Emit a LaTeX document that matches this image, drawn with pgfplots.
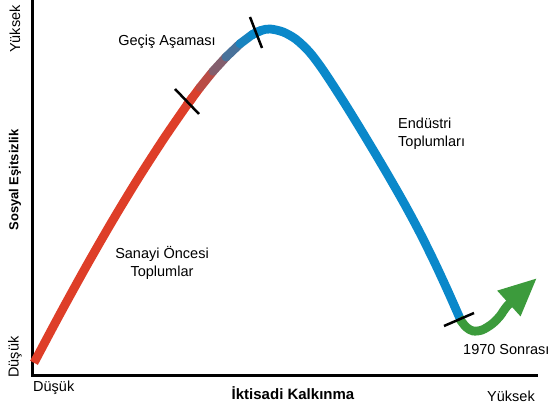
\documentclass[border=0pt]{standalone}
\usepackage{pgfplots}
\pgfplotsset{compat=1.18}
\usepackage{fontspec}
\setmainfont{Liberation Sans}
\usetikzlibrary{arrows.meta}
\definecolor{cred}{RGB}{222,62,40}
\definecolor{cblue}{RGB}{10,136,202}
\definecolor{cgreen}{RGB}{60,155,60}
\begin{document}
\begin{tikzpicture}
\begin{axis}[
  hide axis, scale only axis,
  width=557bp, height=407bp,
  xmin=0, xmax=557, ymin=0, ymax=407,
  clip=false,
  colormap={rb}{rgb255(0cm)=(222,62,40); rgb255(1cm)=(10,136,202)},
]
% axes
\addplot[black, line width=3bp, line join=miter] coordinates {(32,407) (32,32) (538,32)};
% pre-industrial (red)
\addplot[cred, line width=8.8bp, smooth] coordinates {
(34,44.2) (60,93) (86,140.2) (112,185.4) (138,228.3) (164,268.6) (187,302) (193,310)};
% transition (gradient)
\addplot[mesh, point meta=explicit, colormap name=rb, line width=8.8bp, line cap=round] coordinates {
(187,302) [0] (200,319.55) [0.05] (213,335.7) [0.3] (226,349.9) [0.55] (240,363.2) [0.85] (252,372.2) [1] (261,376.5) [1]};
% industrial (blue)
\addplot[cblue, line width=8.8bp, smooth] coordinates {
(252,372.2) (261,376.5) (270,378) (283,375.05) (296,367.7) (309,355.45) (320,341.25) (332,323.4) (345,303.1) (360,278.8) (375,253.9) (390,228.4) (405,202.1) (420,174.1) (435,143.7) (448,115.6) (460,88.5)};
% post-1970 (green arrow)
\addplot[cgreen, line width=8.8bp, smooth, -{Triangle[length=38bp,width=32bp]}] coordinates {
(459,89) (466,80) (473,76) (482,77) (492,83) (500,91) (509,103) (537,129)};
% phase ticks
\addplot[black, line width=2.5bp] coordinates {(175,318) (199,293)};
\addplot[black, line width=2.5bp] coordinates {(250,390) (262,359)};
\addplot[black, line width=2.5bp] coordinates {(444,81) (474,94)};
% labels
\node[rotate=90, font=\fontsize{14.5bp}{17bp}\selectfont] at (axis cs:15,378) {Yüksek};
\node[rotate=90, font=\fontsize{13bp}{16bp}\selectfont\bfseries] at (axis cs:15,227) {Sosyal Eşitsizlik};
\node[rotate=90, font=\fontsize{14.5bp}{17bp}\selectfont] at (axis cs:15,50) {Düşük};
\node[anchor=west, inner sep=0pt, font=\fontsize{14.5bp}{17bp}\selectfont] at (axis cs:33,19) {Düşük};
\node[font=\fontsize{15bp}{17bp}\selectfont\bfseries] at (axis cs:293,14) {İktisadi Kalkınma};
\node[font=\fontsize{14.5bp}{17bp}\selectfont] at (axis cs:511,11) {Yüksek};
\node[anchor=west, inner sep=0pt, font=\fontsize{14.5bp}{17bp}\selectfont] at (axis cs:463,57) {1970 Sonrası};
\node[font=\fontsize{14.5bp}{17bp}\selectfont] at (axis cs:167,365) {Geçiş Aşaması};
\node[anchor=west, inner sep=0pt, align=left, font=\fontsize{14.5bp}{18.5bp}\selectfont] at (axis cs:398,273) {Endüstri\\Toplumları};
\node[align=center, font=\fontsize{14.5bp}{18.5bp}\selectfont] at (axis cs:162,144) {Sanayi Öncesi\\Toplumlar};
\end{axis}
\pgfresetboundingbox
\path (current axis.south west) rectangle (current axis.north east);
\end{tikzpicture}
\end{document}
